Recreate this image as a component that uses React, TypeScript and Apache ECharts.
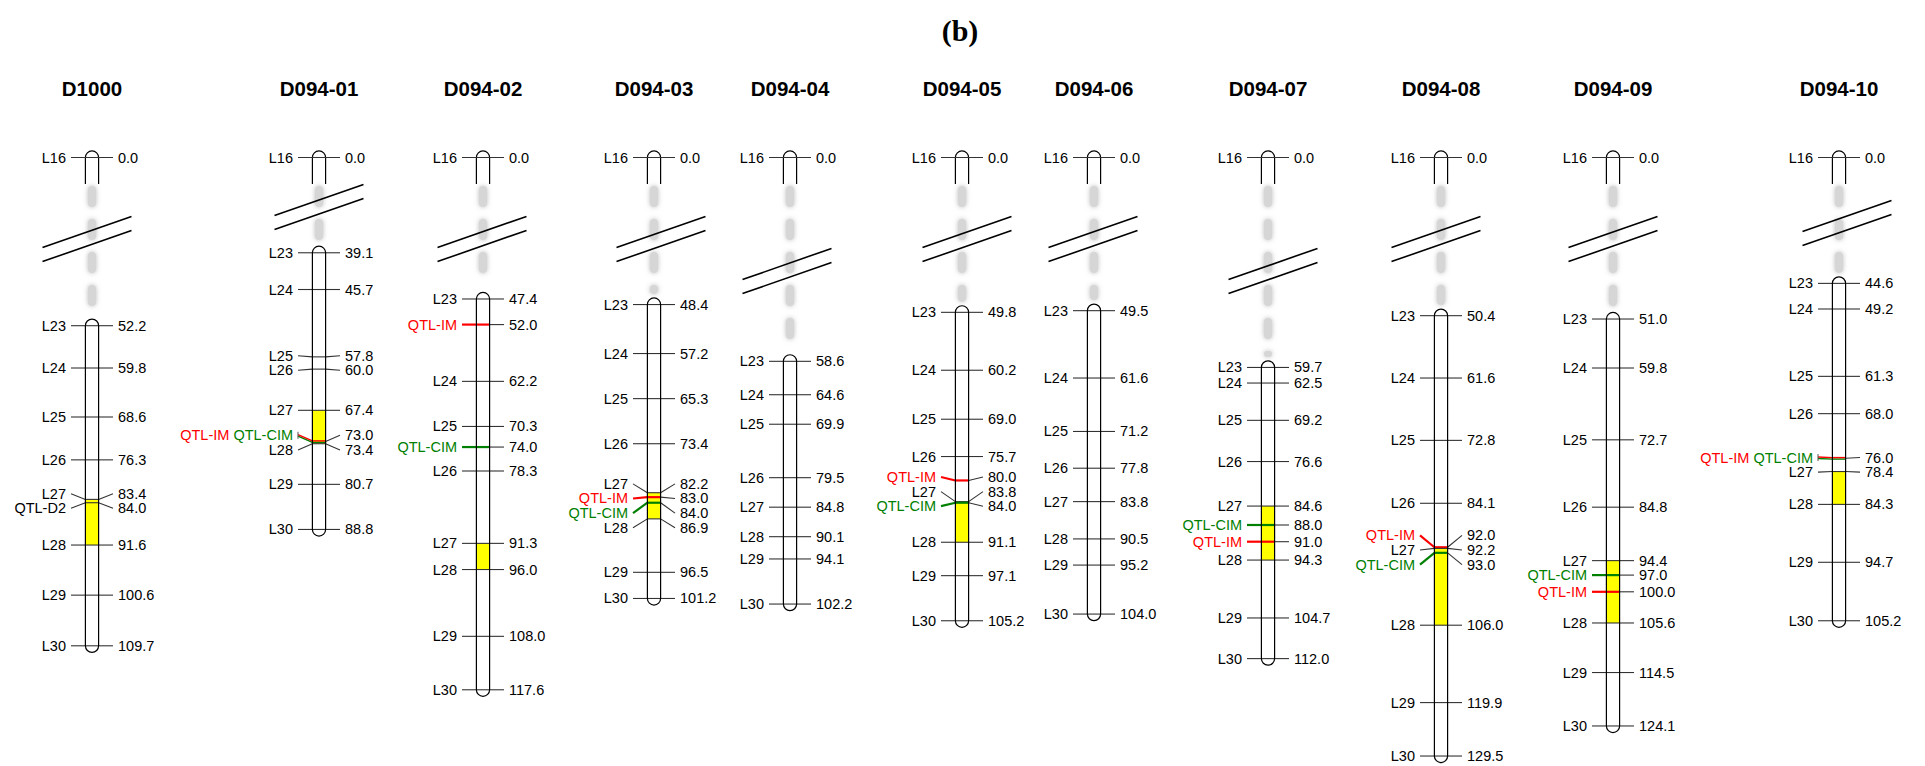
import React, { useEffect, useRef } from 'react';
import * as echarts from 'echarts';

// ---------------- data ----------------
const CHROMOSOMES = ['D1000', 'D094-01', 'D094-02', 'D094-03', 'D094-04', 'D094-05', 'D094-06', 'D094-07', 'D094-08', 'D094-09', 'D094-10'];
const TOP_LOCUS = 'L16';
const TOP_POSITION = 0.0;
const LOCI = ['L23', 'L24', 'L25', 'L26', 'L27', 'L28', 'L29', 'L30'];

const POS_D1000 = [52.2, 59.8, 68.6, 76.3, 83.4, 91.6, 100.6, 109.7];
const POS_D094_01 = [39.1, 45.7, 57.8, 60.0, 67.4, 73.4, 80.7, 88.8];
const POS_D094_02 = [47.4, 62.2, 70.3, 78.3, 91.3, 96.0, 108.0, 117.6];
const POS_D094_03 = [48.4, 57.2, 65.3, 73.4, 82.2, 86.9, 96.5, 101.2];
const POS_D094_04 = [58.6, 64.6, 69.9, 79.5, 84.8, 90.1, 94.1, 102.2];
const POS_D094_05 = [49.8, 60.2, 69.0, 75.7, 83.8, 91.1, 97.1, 105.2];
const POS_D094_06 = [49.5, 61.6, 71.2, 77.8, 83.8, 90.5, 95.2, 104.0];
const POS_D094_07 = [59.7, 62.5, 69.2, 76.6, 84.6, 94.3, 104.7, 112.0];
const POS_D094_08 = [50.4, 61.6, 72.8, 84.1, 92.2, 106.0, 119.9, 129.5];
const POS_D094_09 = [51.0, 59.8, 72.7, 84.8, 94.4, 105.6, 114.5, 124.1];
const POS_D094_10 = [44.6, 49.2, 61.3, 68.0, 78.4, 84.3, 94.7, 105.2];
const POSITIONS = [POS_D1000, POS_D094_01, POS_D094_02, POS_D094_03, POS_D094_04, POS_D094_05, POS_D094_06, POS_D094_07, POS_D094_08, POS_D094_09, POS_D094_10];

const QTL_IM: (number | null)[] = [null, 73.0, 52.0, 83.0, null, 80.0, null, 91.0, 92.0, 100.0, 76.0];
const QTL_CIM: (number | null)[] = [null, 73.0, 74.0, 84.0, null, 84.0, null, 88.0, 93.0, 97.0, 76.0];
const QTL_D2: (number | null)[] = [84.0, null, null, null, null, null, null, null, null, null, null];
const QTL_INTERVAL = ['L27', 'L28'];
const HIGHLIGHT = [true, true, true, true, false, true, false, true, true, true, true];

// ---------------- layout ----------------
const CHROM_X = [92, 319, 483, 654, 790, 962, 1094, 1268, 1441, 1613, 1839];
const BREAK_Y = [239, 207, 239, 239, 271, 239, 239, 271, 239, 239, 223];
const BREAK_DX = [-5, 0, -1, 7, -3, 5, -1, 5, -5, 0, 8];
const W = 1925;
const H = 766;
const PX_PER_CM = 5.567;
const GRID_TOP = 35.1;
const Y_MAX = 131;
const HW = 6.6;
const TICK = 21;
const LABEL_GAP = 26;
const LABEL_SPACING = 14.6;
const MERGE_GAP = 14.45;
const STUB_Y = 157.5;
const STUB_END = 184;
const NAME_Y = 88;
const FONT = '"Liberation Sans", Arial, Helvetica, sans-serif';
const LABEL_FONT = `14.5px ${FONT}`;
const RED = '#ff0000';
const GREEN = '#008000';
const TICK_COLOR = '#333333';

type Marker = { cM: number; kind: 'locus' | 'im' | 'cim' | 'both'; name?: string };

function buildMarkers(i: number): Marker[] {
  const list: Marker[] = [];
  POSITIONS[i].forEach((p, k) => list.push({ cM: p, kind: 'locus', name: LOCI[k] }));
  const d2 = QTL_D2[i];
  if (d2 != null) list.push({ cM: d2, kind: 'locus', name: 'QTL-D2' });
  const im = QTL_IM[i];
  const cim = QTL_CIM[i];
  if (im != null && cim != null && im === cim) list.push({ cM: im, kind: 'both' });
  else {
    if (im != null) list.push({ cM: im, kind: 'im' });
    if (cim != null) list.push({ cM: cim, kind: 'cim' });
  }
  list.sort((a, b) => a.cM - b.cM);
  return list;
}

function spread(ys: number[]): number[] {
  type C = { s: number; e: number };
  let cs: C[] = ys.map((_, k) => ({ s: k, e: k }));
  const first = (c: C) => (ys[c.s] + ys[c.e]) / 2 - ((c.e - c.s) * LABEL_SPACING) / 2;
  let merged = true;
  while (merged) {
    merged = false;
    for (let k = 0; k < cs.length - 1; k++) {
      const a = cs[k];
      const b = cs[k + 1];
      const aLast = first(a) + (a.e - a.s) * LABEL_SPACING;
      if (first(b) - aLast < MERGE_GAP) {
        cs.splice(k, 2, { s: a.s, e: b.e });
        merged = true;
        break;
      }
    }
  }
  const out: number[] = new Array(ys.length);
  cs.forEach((c) => {
    const f = first(c);
    for (let k = c.s; k <= c.e; k++) out[k] = f + (k - c.s) * LABEL_SPACING;
  });
  return out;
}

const txt = (x: number, y: number, text: string, fill: string, align: string, font: string, extra: any = {}) => ({
  type: 'text',
  silent: true,
  style: {
    text, x, y, fill, font,
    align, verticalAlign: 'middle',
    textAlign: align, textVerticalAlign: 'middle',
    ...extra,
  },
});

const seg = (x1: number, y1: number, x2: number, y2: number, stroke: string, lineWidth: number) => ({
  type: 'line',
  silent: true,
  shape: { x1, y1, x2, y2 },
  style: { stroke, lineWidth, fill: null },
});

function renderChromosome(params: any, api: any) {
  const i = params.dataIndex;
  const cx = api.coord([CHROM_X[i], 0])[0];
  const yOf = (cM: number) => api.coord([CHROM_X[i], cM])[1];
  const pos = POSITIONS[i];
  const children: any[] = [];

  // name
  children.push(txt(cx, NAME_Y, CHROMOSOMES[i], '#000', 'center', `bold 20.5px ${FONT}`));

  const yTop = yOf(pos[0]);
  const yBot = yOf(pos[pos.length - 1]);
  const capTop = yTop - HW;

  // blurred dashes in the gap
  for (let y = STUB_END + 2; y < capTop - 5; y += 33) {
    const h = Math.min(21, capTop - 4 - y);
    if (h < 4) break;
    children.push({
      type: 'rect',
      silent: true,
      shape: { x: cx - 4, y, width: 8, height: h, r: 4 },
      style: { fill: '#d6d6d6', shadowBlur: 5, shadowColor: 'rgba(180,180,180,0.9)' },
    });
  }

  // top stub
  children.push({
    type: 'arc',
    silent: true,
    shape: { cx, cy: STUB_Y, r: HW, startAngle: Math.PI, endAngle: Math.PI * 2, clockwise: true },
    style: { stroke: '#000', lineWidth: 1.2, fill: null },
  });
  children.push(seg(cx - HW, STUB_Y, cx - HW, STUB_END, '#000', 1.2));
  children.push(seg(cx + HW, STUB_Y, cx + HW, STUB_END, '#000', 1.2));
  children.push(seg(cx - TICK, STUB_Y, cx + TICK, STUB_Y, TICK_COLOR, 1.1));
  children.push(txt(cx - LABEL_GAP, STUB_Y, TOP_LOCUS, '#000', 'right', LABEL_FONT));
  children.push(txt(cx + LABEL_GAP, STUB_Y, TOP_POSITION.toFixed(1), '#000', 'left', LABEL_FONT));

  // break marks
  const by = BREAK_Y[i];
  const bx = cx + BREAK_DX[i];
  [-7, 7].forEach((o) => {
    children.push(seg(bx - 44.5, by + o + 15.6, bx + 44.5, by + o - 15.6, '#000', 1.6));
  });

  // body fill
  children.push({
    type: 'rect',
    silent: true,
    shape: { x: cx - HW, y: yTop - HW, width: HW * 2, height: yBot - yTop + HW * 2, r: HW },
    style: { fill: '#ffffff' },
  });

  // QTL interval
  if (HIGHLIGHT[i]) {
    const a = yOf(pos[LOCI.indexOf(QTL_INTERVAL[0])]);
    const b = yOf(pos[LOCI.indexOf(QTL_INTERVAL[1])]);
    children.push({
      type: 'rect',
      silent: true,
      shape: { x: cx - HW, y: a, width: HW * 2, height: b - a },
      style: { fill: '#ffff00' },
    });
  }

  // markers
  const markers = buildMarkers(i);
  const trueYs = markers.map((m) => yOf(m.cM));
  const labelYs = spread(trueYs);
  markers.forEach((m, k) => {
    const ty = trueYs[k];
    const ly = labelYs[k];
    const isQ = m.kind !== 'locus';
    const leftColors = m.kind === 'im' ? [RED] : m.kind === 'cim' ? [GREEN] : m.kind === 'both' ? [GREEN, RED] : [TICK_COLOR];
    const lw = isQ ? (m.kind === 'both' ? 1.4 : 2.2) : 1.1;
    leftColors.forEach((c, ci) => {
      const off = m.kind === 'both' ? (ci === 0 ? 0.9 : -0.6) : 0;
      children.push(seg(cx - TICK, ly + off, cx - HW, ty + off, c, lw));
      children.push(seg(cx - HW, ty + off, cx + HW, ty + off, c, lw));
    });
    children.push(seg(cx + HW, ty, cx + TICK, ly, TICK_COLOR, 1.1));
    // left label
    if (m.kind === 'locus') {
      children.push(txt(cx - LABEL_GAP, ly, m.name as string, '#000', 'right', LABEL_FONT));
    } else if (m.kind === 'im') {
      children.push(txt(cx - LABEL_GAP, ly, 'QTL-IM', RED, 'right', LABEL_FONT));
    } else if (m.kind === 'cim') {
      children.push(txt(cx - LABEL_GAP, ly, 'QTL-CIM', GREEN, 'right', LABEL_FONT));
    } else {
      children.push(seg(cx - TICK, ly - 3.5, cx - TICK, ly + 3.5, '#555', 1));
      children.push(
        txt(cx - LABEL_GAP, ly, '{im|QTL-IM} {cim|QTL-CIM}', '#000', 'right', LABEL_FONT, {
          rich: {
            im: { fill: RED, font: LABEL_FONT },
            cim: { fill: GREEN, font: LABEL_FONT },
          },
        })
      );
    }
    // right value
    children.push(txt(cx + LABEL_GAP, ly, m.cM.toFixed(1), '#000', 'left', LABEL_FONT));
  });

  // outline
  children.push({
    type: 'rect',
    silent: true,
    shape: { x: cx - HW, y: yTop - HW, width: HW * 2, height: yBot - yTop + HW * 2, r: HW },
    style: { fill: null, stroke: '#000', lineWidth: 1.2 },
  });

  return { type: 'group', children };
}

export default function App() {
  const ref = useRef<HTMLDivElement>(null);
  useEffect(() => {
    if (!ref.current) return;
    const chart = echarts.init(ref.current, null, { renderer: 'svg' });
    chart.setOption({
      animation: false,
      backgroundColor: '#ffffff',
      title: {
        text: '(b)',
        left: 955,
        textAlign: 'center',
        top: 10,
        textStyle: { fontFamily: '"Liberation Serif", "Times New Roman", serif', fontWeight: 'bold', fontSize: 30, color: '#000' },
      },
      grid: { left: 0, top: GRID_TOP, width: W, height: Y_MAX * PX_PER_CM, containLabel: false },
      xAxis: { type: 'value', min: 0, max: W, show: false },
      yAxis: { type: 'value', min: 0, max: Y_MAX, inverse: true, show: false },
      series: [
        {
          type: 'custom',
          coordinateSystem: 'cartesian2d',
          clip: false,
          silent: true,
          data: CHROMOSOMES.map((_, i) => [CHROM_X[i], 0]),
          encode: { x: 0, y: 1 },
          renderItem: renderChromosome,
        },
      ],
    });
    return () => chart.dispose();
  }, []);
  return <div ref={ref} style={{ position: 'absolute', left: 0, top: 0, width: W, height: H }} />;
}
